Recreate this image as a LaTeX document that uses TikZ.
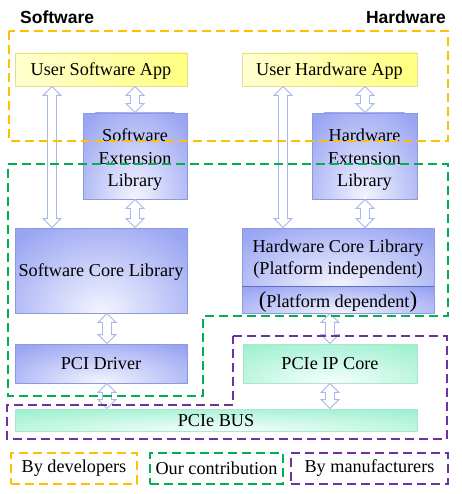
\documentclass[tikz,border=0pt]{standalone}
\usepackage{fontspec}
\setmainfont{Liberation Serif}
\newfontfamily\headfont{Liberation Sans}
\usetikzlibrary{calc,shadows}
\definecolor{dyel}{HTML}{FFC000}
\definecolor{dgrn}{HTML}{00B050}
\definecolor{dpur}{HTML}{7030A0}
\definecolor{bedge}{HTML}{9AA5F2}
\definecolor{bcent}{HTML}{F4F5FF}
\definecolor{bline}{HTML}{8C9BE0}
\definecolor{bdiv}{HTML}{5F6FC0}
\definecolor{ylight}{HTML}{FFFFD0}
\definecolor{ydark}{HTML}{FFFF80}
\definecolor{yline}{HTML}{E6DC9A}
\definecolor{gedge}{HTML}{9CF0D0}
\definecolor{gcent}{HTML}{F6FFFC}
\definecolor{gline}{HTML}{B0E4CE}
\definecolor{aline}{HTML}{A8B8E8}
\pgfdeclareradialshading{bglow}{\pgfpoint{0bp}{0bp}}{color(0bp)=(bcent); color(25bp)=(bedge); color(50bp)=(bedge)}
\pgfdeclareradialshading{gglow}{\pgfpoint{0bp}{0bp}}{color(0bp)=(gcent); color(25bp)=(gedge); color(50bp)=(gedge)}
\newcommand\boxfont{\fontsize{18.2}{22.5}\selectfont}
\newcommand\dbarrow[2]{%
  \path[arrowsty] let \p1=#1, \p2=#2 in
   (\x1,\y1) -- (\x1-9pt,\y1-9pt) -- (\x1-4.5pt,\y1-9pt) -- (\x1-4.5pt,\y2+9pt) -- (\x1-9pt,\y2+9pt) -- (\x1,\y2) -- (\x1+9pt,\y2+9pt) -- (\x1+4.5pt,\y2+9pt) -- (\x1+4.5pt,\y1-9pt) -- (\x1+9pt,\y1-9pt) -- cycle;}
\tikzset{
  arrowsty/.style={draw=aline, fill=white, line width=0.9pt, line join=miter},
  boxbase/.style={inner sep=0pt, align=center, font=\boxfont, line width=0.8pt, text depth=0pt,
     drop shadow={shadow xshift=1pt, shadow yshift=-1.2pt, fill=black, opacity=.18}},
  glowfill/.style n args={3}{fill=#1, path picture={
     \shade[shading=#2] let \p1=($(path picture bounding box.north east)-(path picture bounding box.south west)$) in
       (path picture bounding box.south) ellipse [x radius={#3*abs(\x1)}, y radius={1.2*abs(\y1)}];}},
  ybox/.style={boxbase, draw=yline, left color=ylight, right color=ydark},
  bbox/.style={boxbase, draw=bline, glowfill={bedge}{bglow}{0.7}},
  gbox/.style={boxbase, draw=gline, glowfill={gedge}{gglow}{0.8}},
  dsh/.style={dash pattern=on 9pt off 5pt, line width=1.5pt},
  legend/.style={dsh, inner sep=0pt, font=\boxfont},
  title/.style={inner sep=0pt, font=\headfont\bfseries\fontsize{17.5}{18}\selectfont}
}
\begin{document}
\begin{tikzpicture}[x=1pt,y=-1pt]
\useasboundingbox[fill=white] (0,0) rectangle (461,494);
% titles
\node[title, anchor=west] (tsw) at (20,17) {Software};
\node[title, anchor=east] (thw) at (446,17) {Hardware};
% boxes
\node[ybox, minimum width=172pt, minimum height=33pt] (usa) at (101,69.5) {User Software App};
\node[ybox, minimum width=175pt, minimum height=33pt] (uha) at (329.5,69.5) {User Hardware App};
\node[bbox, minimum width=104pt, minimum height=86pt] (sel) at (135,156) {\rule{0pt}{16pt}Software\\Extension\\Library};
\node[bbox, minimum width=105pt, minimum height=86pt] (hel) at (364.5,156) {\rule{0pt}{16pt}Hardware\\Extension\\Library};
\node[bbox, minimum width=172pt, minimum height=85pt] (scl) at (101,270.5) {Software Core Library};
\node[bbox, minimum width=192pt, minimum height=58pt] (hcl) at (338,257) {Hardware Core Library\\(Platform independent)};
\node[bbox, minimum width=192pt, minimum height=27pt] (hcd) at (338,299.5) {{\fontsize{23}{23}\selectfont(}Platform dependent{\fontsize{23}{23}\selectfont)}};
\draw[bdiv, line width=1.2pt] (hcl.south west) -- (hcl.south east);
\node[bbox, minimum width=172pt, minimum height=39pt] (pci) at (101,363.5) {PCI Driver};
\node[gbox, minimum width=174pt, minimum height=39pt] (ip) at (330,363.5) {PCIe IP Core};
\node[gbox, minimum width=402pt, minimum height=22pt] (bus) at (216,420) {PCIe BUS};
% arrow columns
\coordinate (ax1) at (52,0);
\coordinate (ax2) at (135,0);
\coordinate (ax3) at (283,0);
\coordinate (ax4) at (365,0);
\coordinate (ax5) at (107,0);
\coordinate (ax6) at (330,0);
\dbarrow{(usa.south -| ax1)}{(scl.north -| ax1)}
\dbarrow{(usa.south -| ax2)}{(sel.north -| ax2)}
\dbarrow{(sel.south -| ax2)}{(scl.north -| ax2)}
\dbarrow{(uha.south -| ax3)}{(hcl.north -| ax3)}
\dbarrow{(uha.south -| ax4)}{(hel.north -| ax4)}
\dbarrow{(hel.south -| ax4)}{(hcl.north -| ax4)}
\dbarrow{(scl.south -| ax5)}{(pci.north -| ax5)}
\dbarrow{(pci.south -| ax5)}{(bus.north -| ax5)}
\dbarrow{(hcd.south -| ax6)}{(ip.north -| ax6)}
\dbarrow{(ip.south -| ax6)}{(bus.north -| ax6)}
% dashed regions
\draw[dsh, dyel] (9,31) rectangle (448,141);
\draw[dsh, dgrn] (8,164) -- (448,164) -- (448,316) -- (203,316) -- (203,396) -- (8,396) -- cycle;
\draw[dsh, dpur] (233,336) -- (447,336) -- (447,439) -- (7,439) -- (7,405) -- (233,405) -- cycle;
% legend
\node[legend, draw=dyel, minimum width=126pt, minimum height=31pt] (l1) at (74,468.5) {By developers};
\node[legend, draw=dgrn, minimum width=133pt, minimum height=31pt] (l2) at (216.5,468.5) {Our contribution};
\node[legend, draw=dpur, minimum width=157pt, minimum height=31pt] (l3) at (369.5,468.5) {By manufacturers};
\end{tikzpicture}
\end{document}
